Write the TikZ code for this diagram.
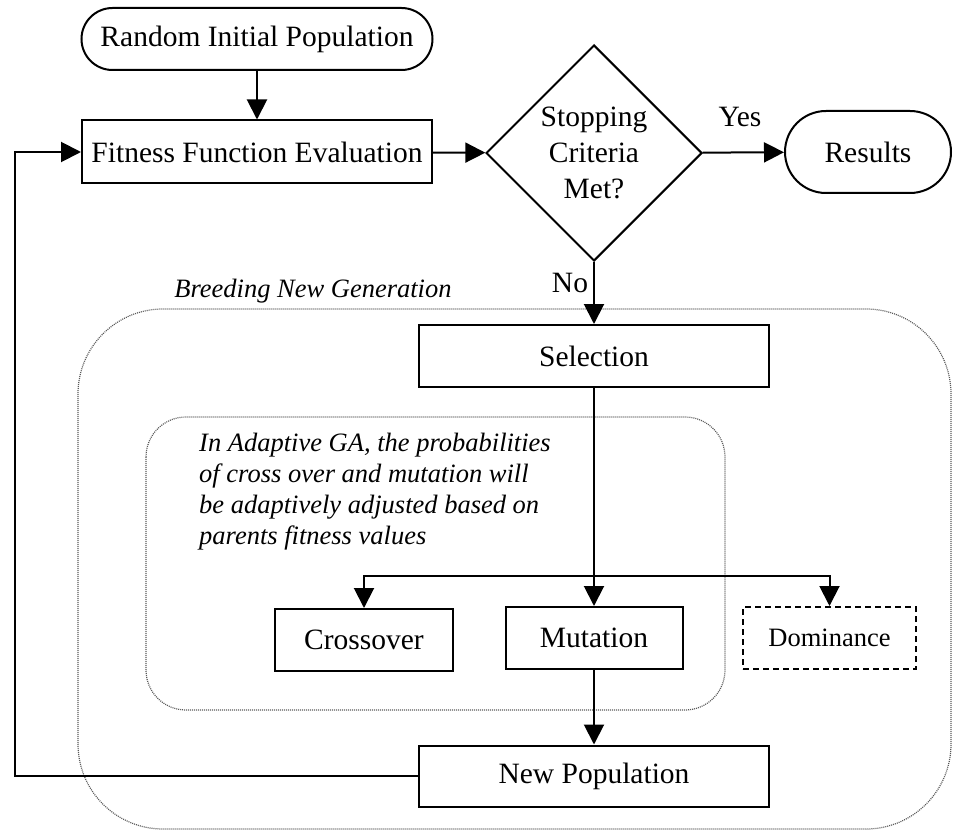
\documentclass[tikz,border=0pt]{standalone}
\usepackage{fontspec}
\setmainfont{Liberation Serif}
\usetikzlibrary{arrows.meta,shapes.geometric}
\begin{document}
\begin{tikzpicture}[x=1pt,y=-1pt,
  base/.style={font=\fontsize{29.5pt}{36pt}\selectfont, inner sep=0pt, line width=2pt},
  proc/.style={base, draw, rectangle},
  term/.style={base, draw, rectangle, rounded corners=#1},
  decision/.style={base, draw, diamond, aspect=1, minimum width=216pt, minimum height=216pt, align=center},
  optbox/.style={proc, dashed, dash pattern=on 6pt off 4pt, font=\fontsize{26.5pt}{32pt}\selectfont},
  zone/.style={draw=black!65, line width=1.2pt, dash pattern=on 1pt off 1pt},
  arr/.style={line width=2pt, -{Triangle[length=20pt,width=20pt]}},
  lbl/.style={font=\fontsize{29.5pt}{36pt}\selectfont, inner sep=0pt},
  note/.style={font=\fontsize{26.5pt}{31pt}\selectfont\itshape, inner sep=0pt, align=left}
]
\useasboundingbox (0,0) rectangle (954,832);

% dotted grouping regions
\draw[zone, rounded corners=85pt] (78,309) rectangle (951,829);
\draw[zone, rounded corners=40pt] (146,417) rectangle (725,710);

% main flow
\node[term=31pt, minimum width=351pt, minimum height=62pt] (rip) at (257,39) {Random Initial Population};
\node[proc, minimum width=350pt, minimum height=63pt] (ffe) at (257,152) {Fitness Function Evaluation};
\node[decision] (stop) at (594,153) {Stopping\\Criteria\\Met?};
\node[term=41pt, minimum width=166pt, minimum height=82pt] (res) at (868,152) {Results};
\node[proc, minimum width=350pt, minimum height=62pt] (sel) at (594,356) {Selection};
\node[proc, minimum width=178pt, minimum height=62pt] (cross) at (364,640) {Crossover};
\node[proc, minimum width=177pt, minimum height=62pt] (mut) at (594,638) {Mutation};
\node[optbox, minimum width=173pt, minimum height=62pt] (dom) at (829.5,638) {Dominance};
\node[proc, minimum width=350pt, minimum height=61pt] (np) at (594,776) {New Population};

% labels
\node[lbl] (yes) at (740,117) {Yes};
\node[lbl] (no) at (570,283) {No};
\node[note] (bng) at (313,291) {Breeding New Generation};
\node[note, anchor=north west] (adapt) at (199,433) {In Adaptive GA, the probabilities\\of cross over and mutation will\\be adaptively adjusted based on\\parents fitness values};

% connectors
\coordinate (br) at (594,576);
\coordinate (fb) at (15,776);
\draw[arr] (rip) -- (ffe);
\draw[arr] (ffe) -- (stop);
\draw[arr] (stop) -- (res);
\draw[arr] (stop) -- (sel);
\draw[arr] (sel) -- (mut);
\draw[arr] (br) -| (cross.north);
\draw[arr] (br) -| (dom.north);
\draw[arr] (mut) -- (np);
\draw[arr] (np.west) -- (fb) |- (ffe.west);
\end{tikzpicture}
\end{document}
